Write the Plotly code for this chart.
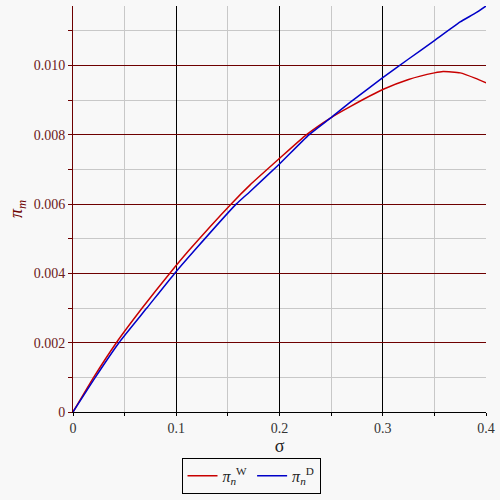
import plotly.graph_objects as go

# Data
sigma_W = [0.0, 0.020, 0.042, 0.067, 0.0936, 0.1126, 0.153, 0.1713, 0.2, 0.2259,
           0.25, 0.268, 0.3, 0.325, 0.35, 0.3585, 0.375, 0.39, 0.4]
pi_W = [0.0, 0.001, 0.002, 0.003, 0.004, 0.004675, 0.006, 0.00655, 0.00732, 0.008,
        0.0085, 0.00881, 0.00931, 0.0096, 0.00979, 0.00983, 0.00979, 0.00963, 0.0095]

sigma_D = [0.0, 0.0216, 0.0445, 0.0715, 0.0984, 0.118, 0.158, 0.1713, 0.2, 0.2285,
           0.25, 0.268, 0.3, 0.325, 0.35, 0.375, 0.39, 0.4]
pi_D = [0.0, 0.001, 0.002, 0.003, 0.004, 0.004675, 0.006, 0.00636, 0.00716, 0.008,
        0.0085, 0.00893, 0.00965, 0.01019, 0.01072, 0.01126, 0.01152, 0.01172]

x_ticks = [0, 0.1, 0.2, 0.3, 0.4]
x_labels = ["0", "0.1", "0.2", "0.3", "0.4"]
y_ticks = [0, 0.002, 0.004, 0.006, 0.008, 0.010]
y_labels = ["0", "0.002", "0.004", "0.006", "0.008", "0.010"]

DARKRED = "#6E0000"
FONT = "Liberation Serif, Times New Roman, serif"

fig = go.Figure()
fig.add_trace(go.Scatter(x=sigma_W, y=pi_W, mode="lines",
                         line=dict(color="#C80000", width=1.5, shape="spline", smoothing=0.5),
                         name="<i>π</i><sub><i>n</i></sub><sup>W</sup>"))
fig.add_trace(go.Scatter(x=sigma_D, y=pi_D, mode="lines",
                         line=dict(color="#0000C8", width=1.5, shape="spline", smoothing=0.5),
                         name="<i>π</i><sub><i>n</i></sub><sup>D</sup>"))

fig.update_layout(
    width=500, height=500,
    margin=dict(l=73, r=14, t=6, b=88),
    paper_bgcolor="#F8F8F8", plot_bgcolor="#F8F8F8",
    font=dict(family=FONT, size=13, color="#333333"),
    showlegend=True,
    legend=dict(orientation="h", x=0.431, xanchor="center", y=-0.113, yanchor="top",
                bordercolor="#000000", borderwidth=1, bgcolor="#F8F8F8",
                itemwidth=30, tracegroupgap=0,
                font=dict(family=FONT, size=16, color="#222222")),
    xaxis=dict(
        range=[0, 0.4], tickvals=x_ticks, ticktext=x_labels,
        showgrid=True, gridcolor="#000000", gridwidth=1,
        showline=True, linecolor="#000000", linewidth=1,
        ticks="outside", ticklen=3, tickcolor="#000000",
        tickfont=dict(family=FONT, size=14, color="#333333"),
        zeroline=False, automargin=False,
        minor=dict(dtick=0.05, tick0=0, showgrid=True, gridcolor="#C8C8C8", gridwidth=1,
                   ticks="outside", ticklen=3, tickcolor="#000000"),
        title=dict(text="σ", font=dict(family=FONT, size=18, color="#222222"), standoff=1),
    ),
    yaxis=dict(
        range=[0, 0.01172], tickvals=y_ticks, ticktext=y_labels,
        showgrid=True, gridcolor=DARKRED, gridwidth=1,
        showline=True, linecolor=DARKRED, linewidth=1,
        ticks="outside", ticklen=4, tickcolor=DARKRED,
        tickfont=dict(family=FONT, size=14, color="#6B2020"),
        zeroline=False, automargin=False,
        minor=dict(dtick=0.001, tick0=0, showgrid=True, gridcolor="#C8C8C8", gridwidth=1,
                   ticks="outside", ticklen=4, tickcolor=DARKRED),
        title=dict(text="<i>π<sub>m</sub></i>", font=dict(family=FONT, size=18, color=DARKRED),
                   standoff=6),
    ),
)

fig.write_html("out.html",
               config={"displayModeBar": False},
               post_script="document.body.style.margin='0';"
                           "document.body.style.background='#F8F8F8';"
                           "document.body.style.overflow='hidden';")
